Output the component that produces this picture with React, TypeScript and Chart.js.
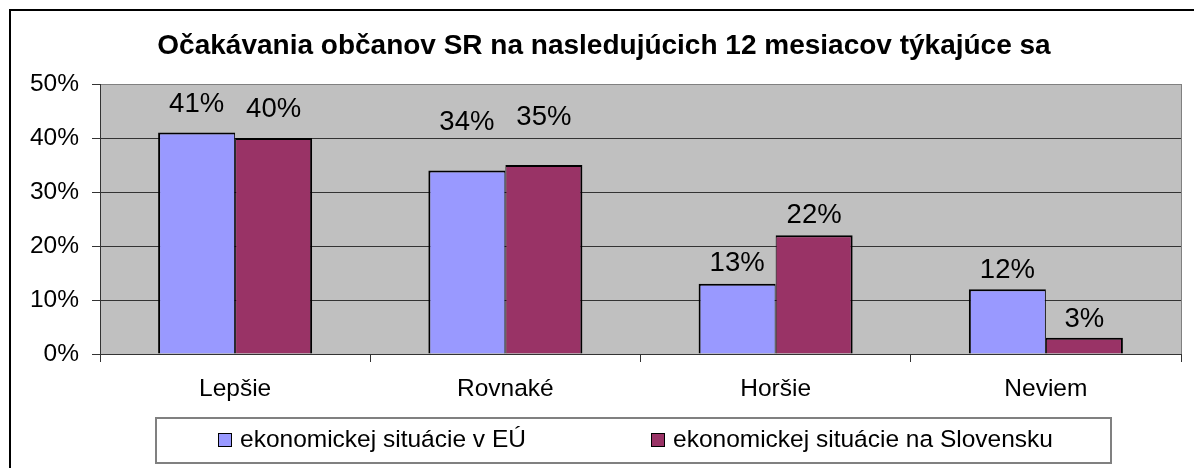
import React, { useEffect, useRef } from "react";
import { Chart, registerables } from "chart.js";

Chart.register(...registerables);

const categories = ["Lepšie", "Rovnaké", "Horšie", "Neviem"];
const seriesEU = [41, 34, 13, 12];
const seriesSK = [40, 35, 22, 3];
const seriesNames = ["ekonomickej situácie v EÚ", "ekonomickej situácie na Slovensku"];
const yTickValues = [0, 10, 20, 30, 40, 50];
const chartTitle = "Očakávania občanov SR na nasledujúcich 12 mesiacov týkajúce sa";

const FONT = '"Liberation Sans", Arial, Helvetica, sans-serif';

const decorPlugin = {
  id: "decor",
  beforeDraw(chart: any) {
    const { ctx, chartArea: a } = chart;
    ctx.save();
    ctx.fillStyle = "#ffffff";
    ctx.fillRect(0, 0, chart.width, chart.height);
    ctx.fillStyle = "#C0C0C0";
    ctx.fillRect(a.left, a.top, a.right - a.left, a.bottom - a.top);
    ctx.strokeStyle = "#000";
    ctx.lineWidth = 2;
    ctx.strokeRect(10, 10, chart.width + 20, chart.height + 20);
    ctx.fillStyle = "#000";
    ctx.font = `bold 28px ${FONT}`;
    ctx.textAlign = "center";
    ctx.textBaseline = "alphabetic";
    ctx.fillText(chartTitle, 604, 54);
    ctx.restore();
  },
  afterDatasetsDraw(chart: any, _args: any, opts: any) {
    const { ctx, chartArea: a } = chart;
    ctx.save();
    ctx.strokeStyle = "#808080";
    ctx.lineWidth = 1;
    ctx.beginPath();
    ctx.moveTo(Math.round(a.right) + 0.5, a.top);
    ctx.lineTo(Math.round(a.right) + 0.5, a.bottom);
    ctx.stroke();
    ctx.fillStyle = "#000";
    ctx.font = `27.5px ${FONT}`;
    ctx.textAlign = "center";
    ctx.textBaseline = "middle";
    const lifts: number[] = opts.labelLift || [];
    chart.data.datasets.forEach((ds: any, di: number) => {
      const meta = chart.getDatasetMeta(di);
      meta.data.forEach((el: any, i: number) => {
        const lift = lifts[i] ?? 20;
        ctx.fillText(ds.data[i] + "%", el.x, el.y - lift);
      });
    });
    ctx.restore();
  },
  afterDraw(chart: any) {
    const { ctx } = chart;
    ctx.save();
    ctx.strokeStyle = "#808080";
    ctx.lineWidth = 2;
    ctx.strokeRect(156, 418, 955, 45);
    const starts = [218, 651];
    ctx.font = `24.5px ${FONT}`;
    ctx.textAlign = "left";
    ctx.textBaseline = "alphabetic";
    chart.data.datasets.forEach((ds: any, di: number) => {
      const x = starts[di];
      ctx.fillStyle = ds.backgroundColor;
      ctx.fillRect(x, 433, 14, 14);
      ctx.strokeStyle = "#000";
      ctx.lineWidth = 1;
      ctx.strokeRect(x + 0.5, 433.5, 13, 13);
      ctx.fillStyle = "#000";
      ctx.fillText(ds.label, x + 22, 447);
    });
    ctx.restore();
  },
};

export default function App() {
  const ref = useRef<HTMLCanvasElement>(null);
  useEffect(() => {
    document.body.style.margin = "0";
    const chart = new Chart(ref.current as HTMLCanvasElement, {
      type: "bar",
      data: {
        labels: categories,
        datasets: [
          {
            label: seriesNames[0],
            data: seriesEU,
            backgroundColor: "#9999FF",
            borderColor: "#000",
            borderWidth: { top: 2, left: 2, right: 1, bottom: 0 },
          },
          {
            label: seriesNames[1],
            data: seriesSK,
            backgroundColor: "#993366",
            borderColor: "#000",
            borderWidth: { top: 2, left: 1, right: 2, bottom: 0 },
          },
        ],
      },
      options: {
        responsive: false,
        animation: false,
        events: [],
        datasets: { bar: { categoryPercentage: 0.57, barPercentage: 1 } },
        layout: { padding: { top: 84, right: 13, left: 0, bottom: 0 } },
        plugins: {
          legend: { display: false },
          title: { display: false },
          tooltip: { enabled: false },
          decor: { labelLift: [28.5, 48, 20, 18.5] },
        } as any,
        scales: {
          x: {
            grid: {
              display: true,
              drawOnChartArea: false,
              drawTicks: true,
              tickLength: 8,
              color: "#333",
              offset: true,
            },
            border: { display: true, color: "#333", width: 1 },
            ticks: { color: "#000", font: { family: FONT, size: 24.5 }, padding: 13 },
            afterFit: (s: any) => {
              s.height = 114;
            },
          },
          y: {
            min: 0,
            max: 50,
            afterBuildTicks: (s: any) => {
              s.ticks = yTickValues.map((v) => ({ value: v }));
            },
            ticks: {
              color: "#000",
              font: { family: FONT, size: 24.5 },
              padding: 13,
              callback: (v: any) => v + "%",
            },
            grid: {
              color: (c: any) => (c.tick && c.tick.value === 50 ? "#808080" : "#333"),
              tickColor: "#333",
              tickLength: 8,
            },
            border: { color: "#333" },
            afterFit: (s: any) => {
              s.width = 100;
            },
          },
        },
      },
      plugins: [decorPlugin],
    });
    return () => chart.destroy();
  }, []);
  return <canvas ref={ref} width={1194} height={468} style={{ display: "block" }} />;
}
